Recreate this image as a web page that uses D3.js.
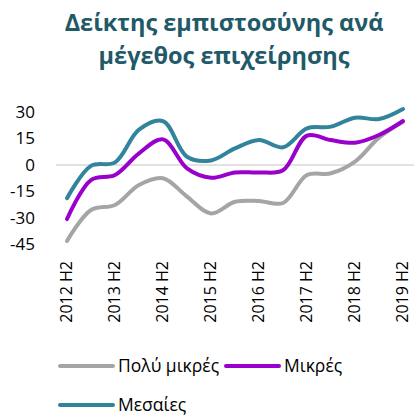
<!DOCTYPE html>
<html>
<head>
<meta charset="utf-8">
<script src="https://cdn.jsdelivr.net/npm/d3@7"></script>
<style>
  body { margin: 0; background: #fff; }
  svg { display: block; font-family: "Open Sans", sans-serif; }
</style>
</head>
<body>
<svg id="chart" width="414" height="416"></svg>
<script>
// half-year periods, labels only shown on H2
var periods = ["2012 H2", "2013 H1", "2013 H2", "2014 H1", "2014 H2", "2015 H1", "2015 H2",
               "2016 H1", "2016 H2", "2017 H1", "2017 H2", "2018 H1", "2018 H2", "2019 H1", "2019 H2"];
var tickLabels = ["2012 H2", "2013 H2", "2014 H2", "2015 H2", "2016 H2", "2017 H2", "2018 H2", "2019 H2"];
var yTicks = [-45, -30, -15, 0, 15, 30];

var veryMicro = [-43, -25.5, -22.6, -11.3, -7.5, -17.9, -27.4, -20.8, -20.4, -21.5, -5.7, -4.7, 1.9, 15.5, 24.5];
var micro     = [-30.6, -8.5, -5.7, 6.6, 14.5, -1.9, -7.2, -4.2, -4.2, -3, 16.6, 14.1, 12.6, 17, 24.9];
var medium    = [-18.8, -0.5, 1.5, 20, 24.8, 4.7, 2.6, 9.4, 14.1, 10, 20.7, 21.7, 26.8, 26, 31.7];

var seriesNames = ["Πολύ μικρές", "Μικρές", "Μεσαίες"];
var colors = ["#a5a5a5", "#9900cc", "#31849b"];

(function () {
    var svg = d3.select("#chart");

    var x = d3.scalePoint().domain(periods).range([67, 403]);
    var y = d3.scaleLinear().domain([-45, 30]).range([244.5, 112]);

    // title
    var title = svg.append("text")
        .attr("x", 224)
        .attr("text-anchor", "middle")
        .style("font-weight", "bold")
        .style("font-size", "23.5px")
        .style("fill", "#215968");
    title.append("tspan").attr("x", 224).attr("y", 31).text("Δείκτης εμπιστοσύνης ανά");
    title.append("tspan").attr("x", 224).attr("y", 64).text("μέγεθος επιχείρησης");

    // zero line
    svg.append("line")
        .attr("x1", 56).attr("x2", 414)
        .attr("y1", y(0)).attr("y2", y(0))
        .style("stroke", "#d9d9d9")
        .style("stroke-width", 1.5);

    // y axis labels
    svg.append("g").selectAll("text")
        .data(yTicks)
        .enter().append("text")
        .attr("x", 35)
        .attr("y", function (d) { return y(d); })
        .attr("dy", "0.35em")
        .attr("text-anchor", "end")
        .style("font-size", "17px")
        .style("fill", "#000")
        .text(function (d) { return d; });

    // x axis labels (rotated)
    svg.append("g").selectAll("text")
        .data(tickLabels)
        .enter().append("text")
        .attr("transform", function (d) { return "translate(" + x(d) + ",261) rotate(-90)"; })
        .attr("dy", "0.33em")
        .attr("text-anchor", "end")
        .style("font-size", "16px")
        .style("fill", "#000")
        .text(function (d) { return d; });

    var line = d3.line()
        .x(function (d, i) { return x(periods[i]); })
        .y(function (d) { return y(d); })
        .curve(d3.curveCatmullRom.alpha(0.5));

    [veryMicro, micro, medium].forEach(function (s, k) {
        svg.append("path")
            .datum(s)
            .attr("d", line)
            .style("fill", "none")
            .style("stroke", colors[k])
            .style("stroke-width", 4)
            .style("stroke-linecap", "round")
            .style("stroke-linejoin", "round");
    });

    // legend
    var legendPos = [[60, 366], [226, 366], [60, 405]];
    var lg = svg.append("g").selectAll("g")
        .data(seriesNames)
        .enter().append("g")
        .attr("transform", function (d, i) { return "translate(" + legendPos[i][0] + "," + legendPos[i][1] + ")"; });
    lg.append("line")
        .attr("x1", 0).attr("x2", 53)
        .style("stroke", function (d, i) { return colors[i]; })
        .style("stroke-width", 4)
        .style("stroke-linecap", "round");
    lg.append("text")
        .attr("x", 58)
        .attr("dy", "0.35em")
        .style("font-size", "17.5px")
        .style("fill", "#000")
        .text(function (d) { return d; });
})();
</script>
</body>
</html>
